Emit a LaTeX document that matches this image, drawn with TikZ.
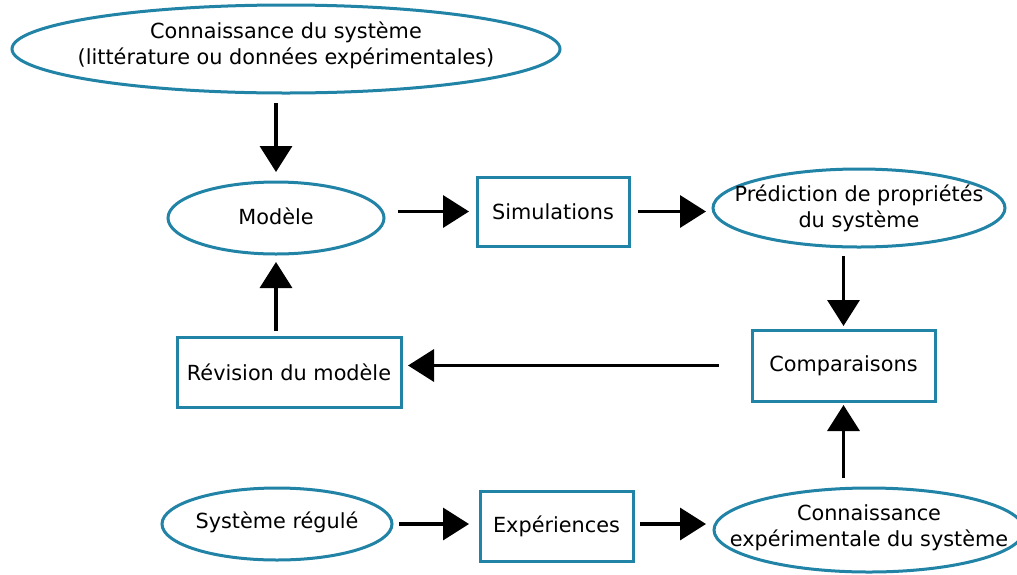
\documentclass[tikz,border=0pt]{standalone}
\usepackage{fontspec}
\setmainfont{DejaVu Sans}
\usetikzlibrary{shapes.geometric,arrows.meta,calc}
\definecolor{tealb}{RGB}{33,131,166}
\begin{document}
\begin{tikzpicture}[x=1pt,y=-1pt,
  every node/.style={font=\fontsize{20.8}{26}\selectfont, align=center, inner sep=0pt, outer sep=0pt},
  oval/.style={ellipse, draw=tealb, line width=3pt},
  boxn/.style={rectangle, draw=tealb, line width=3pt},
  arr/.style={line width=3.5pt, -{Triangle[length=26pt,width=32pt]}}]
\clip (0,0) rectangle (1017,574);
\fill[white] (0,0) rectangle (1017,574);

\node[oval, minimum width=548pt, minimum height=88pt,
  label={[yshift=4pt]center:{Connaissance du système\\(littérature ou données expérimentales)}}] (top) at (286,49) {};
\node[oval, minimum width=216pt, minimum height=72pt,
  label={[yshift=2pt]center:{Modèle}}] (modele) at (276,218) {};
\node[boxn, minimum width=152pt, minimum height=69pt] (sim) at (553,211.5) {Simulations};
\node[oval, minimum width=292pt, minimum height=78pt,
  label={center:{Prédiction de propriétés\\du système}}] (pred) at (859,208) {};
\node[boxn, minimum width=183pt, minimum height=71pt] (comp) at (843.5,365.5) {Comparaisons};
\node[boxn, minimum width=224pt, minimum height=70pt] (rev) at (289,372) {Révision du modèle};
\node[oval, minimum width=230pt, minimum height=72pt,
  label={[yshift=2pt]center:{Système régulé}}] (sys) at (277,524) {};
\node[boxn, minimum width=153pt, minimum height=70pt] (exp) at (556.5,526) {Expériences};
\node[oval, minimum width=310pt, minimum height=84pt,
  label={[yshift=2pt]center:{Connaissance\\expérimentale du système}}] (cexp) at (869,530) {};

\draw[arr, shorten <=10pt, shorten >=10pt] (top.south -| modele.north) -- (modele.north);
\draw[arr, shorten <=14pt, shorten >=8pt] (sim.west -| modele.east) -- (sim.west);
\draw[arr, shorten <=9pt, shorten >=7pt] (sim.east) -- (sim.east -| pred.west);
\draw[arr, shorten <=9pt, shorten >=4pt] (pred.south -| comp.north) -- (comp.north);
\draw[arr, shorten <=33pt, shorten >=7pt] (comp.west) -- (comp.west -| rev.east);
\draw[arr, shorten <=6pt, shorten >=8pt] (rev.north -| modele.south) -- (modele.south);
\draw[arr, shorten <=7pt, shorten >=11pt] (sys.east) -- (sys.east -| exp.west);
\draw[arr, shorten <=7pt, shorten >=8pt] (sys.east -| exp.east) -- (sys.east -| cexp.west);
\draw[arr, shorten <=10pt, shorten >=4pt] (cexp.north -| comp.south) -- (comp.south);
\end{tikzpicture}
\end{document}
